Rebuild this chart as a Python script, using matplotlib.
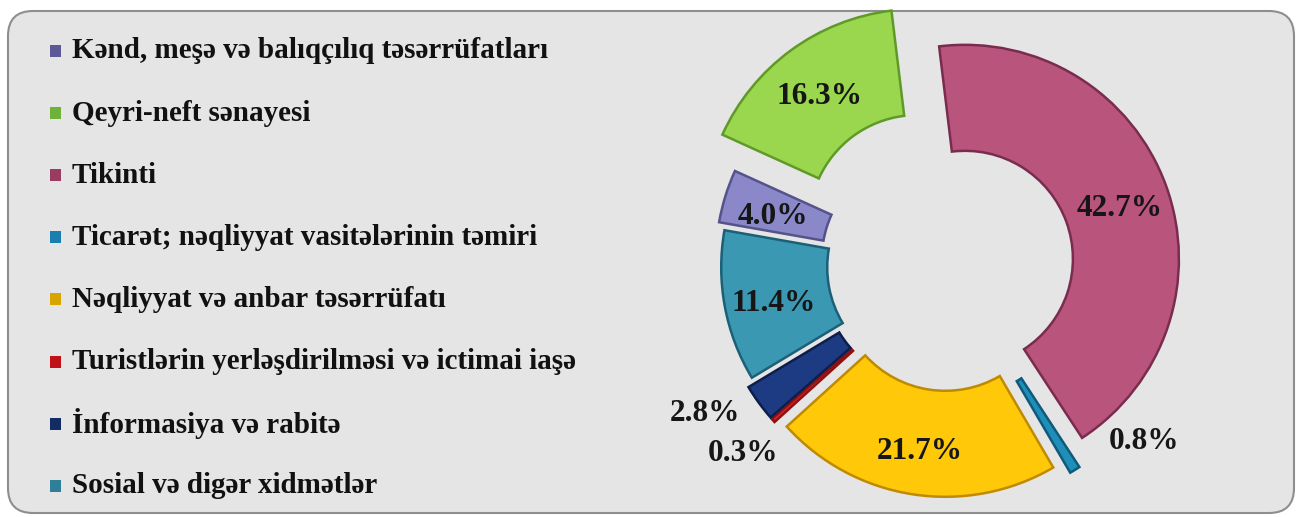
import matplotlib.pyplot as plt
import numpy as np
from matplotlib.patches import FancyBboxPatch, Rectangle

plt.rcParams['font.family'] = ['Liberation Serif', 'DejaVu Serif']

# --- data ---
sektorlar = ['Kənd, meşə və balıqçılıq təsərrüfatları',
             'Qeyri-neft sənayesi',
             'Tikinti',
             'Ticarət; nəqliyyat vasitələrinin təmiri',
             'Nəqliyyat və anbar təsərrüfatı',
             'Turistlərin yerləşdirilməsi və ictimai iaşə',
             'İnformasiya və rabitə',
             'Sosial və digər xidmətlər']
paylar = [4.0, 16.3, 42.7, 0.8, 21.7, 0.3, 2.8, 11.4]

# --- style / layout ---
rengler = ['#8a88c8', '#9ad64e', '#b9547d', '#1f8fba', '#ffc809', '#d8282c', '#1d3b82', '#3a98b3']
kenarlar = ['#55538a', '#5f9a28', '#7a2c4e', '#0f5a7a', '#c08a00', '#901010', '#0c1f4c', '#1c6078']
leg_rengler = ['#5c5a96', '#6fb23a', '#9a3c62', '#1a7fae', '#d8a400', '#c01018', '#142c66', '#2f7f98']
partlama = [19, 52, 18, 27, 18, 20, 20, 13]      # px, how far each slice is pulled out
yazi_mesafe = [0.77, 0.77, 0.77, 1.11, 0.77, 1.21, 1.24, 0.77]  # label radius / R
yazi_surusme = [0, 0, 0, 18, 0, 1, -5, 0]          # label angle shift (deg)

W, H = 1297, 517
R = 214
fig = plt.figure(figsize=(W / 100, H / 100), dpi=100)
fig.patch.set_facecolor('white')
ax = fig.add_axes([0, 0, 1, 1])

# panel
panel = FancyBboxPatch((8, 4), 1286, 502, boxstyle='round,pad=0,rounding_size=25',
                       fc='#e5e5e5', ec='#8e8e8e', lw=1.5, zorder=0)
ax.add_patch(panel)

wedges, _ = ax.pie(paylar, explode=partlama, colors=rengler, startangle=170,
                   counterclock=False, radius=R, center=(948, H - 265),
                   wedgeprops=dict(width=106, linewidth=1.8))
for w, ec in zip(wedges, kenarlar):
    w.set_edgecolor(ec)
    w.set_zorder(2)

# percentage labels
for i, (w, p, d, s) in enumerate(zip(wedges, paylar, yazi_mesafe, yazi_surusme)):
    th = np.deg2rad((w.theta1 + w.theta2) / 2 + s)
    x = w.center[0] + d * R * np.cos(th)
    y = w.center[1] + d * R * np.sin(th)
    if d < 1:
        y -= 6
    ax.text(x, y, f'{p:.1f}%', ha='center', va='center', fontsize=22.5,
            fontweight='bold', color='#161616', zorder=3)

# legend
for i, (lab, c) in enumerate(zip(sektorlar, leg_rengler)):
    y = H - (51 + 62.1 * i)
    ax.add_patch(Rectangle((50, y - 6), 11, 12, fc=c, ec='none', zorder=3))
    ax.text(72, y, lab, ha='left', va='center', fontsize=21, fontweight='bold',
            color='#111111', zorder=3)

ax.set_xlim(0, W)
ax.set_ylim(0, H)
ax.set_aspect('equal')
ax.axis('off')

fig.savefig('out.png', dpi=100, facecolor='white')
